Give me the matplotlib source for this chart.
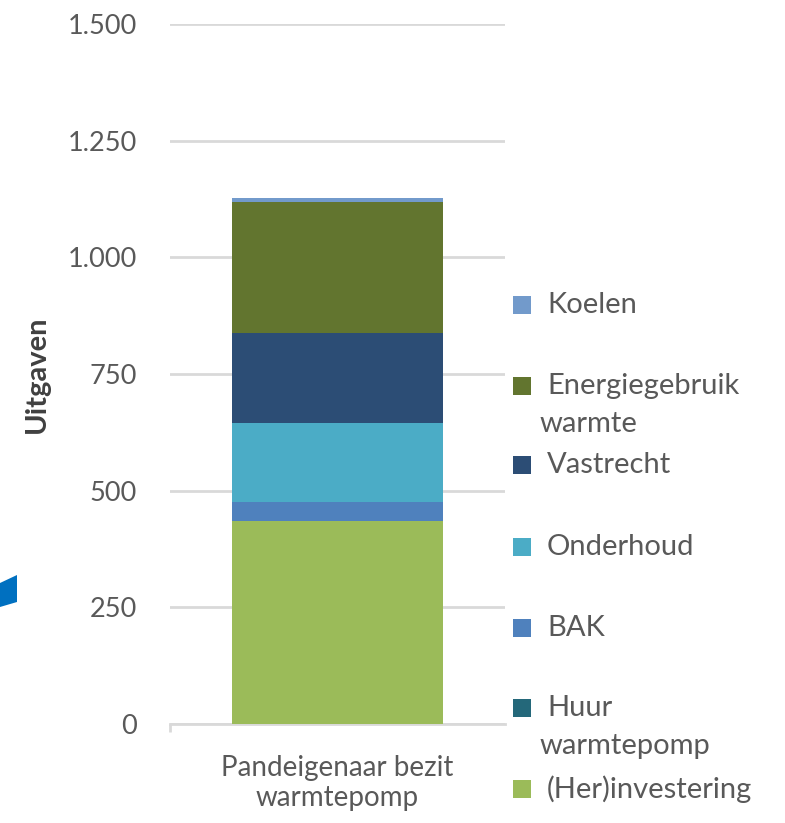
import matplotlib
matplotlib.use("Agg")
import matplotlib.pyplot as plt
from matplotlib.patches import Rectangle, Polygon

# ---- data ----
categories = ["Pandeigenaar bezit\nwarmtepomp"]
series_names = ["(Her)investering", "Huur\nwarmtepomp", "BAK", "Onderhoud",
                "Vastrecht", "Energiegebruik\nwarmte", "Koelen"]
herinvestering = [436]
huur_warmtepomp = [0]
bak = [39]
onderhoud = [169]
vastrecht = [194]
energiegebruik_warmte = [281]
koelen = [8]
series_values = [herinvestering, huur_warmtepomp, bak, onderhoud,
                 vastrecht, energiegebruik_warmte, koelen]
series_colors = ["#9BBB59", "#24687A", "#4F81BD", "#4BACC6",
                 "#2C4D75", "#62752F", "#729ACB"]
yticks = [0, 250, 500, 750, 1000, 1250, 1500]
ytick_labels = ["0", "250", "500", "750", "1.000", "1.250", "1.500"]

plt.rcParams["font.family"] = ["Lato", "DejaVu Sans"]

W, H = 785, 823
fig = plt.figure(figsize=(W / 100, H / 100), dpi=100)
ax = fig.add_axes([170 / W, 1 - 724 / H, 335 / W, 700 / H])

x = list(range(len(categories)))
bottom = [0] * len(categories)
for name, vals, col in zip(series_names, series_values, series_colors):
    ax.bar(x, vals, width=0.627, bottom=bottom, color=col, linewidth=0, zorder=3)
    bottom = [b + v for b, v in zip(bottom, vals)]

ax.set_xlim(-0.5, len(categories) - 0.5)
ax.set_ylim(0, 1500)
ax.set_yticks(yticks)
ax.set_yticklabels(ytick_labels)
ax.grid(axis="y", color="#D9D9D9", linewidth=2, zorder=0)
ax.set_axisbelow(True)
for s in ["top", "right", "left"]:
    ax.spines[s].set_visible(False)
ax.spines["bottom"].set_color("#D9D9D9")
ax.spines["bottom"].set_linewidth(2)
ax.tick_params(axis="y", length=0, pad=24, labelsize=19.5, labelcolor="#595959")
ax.set_xticks(x)
ax.set_xticklabels(categories)
ax.tick_params(axis="x", which="major", length=0, pad=22, labelsize=20, labelcolor="#595959")
for lbl in ax.get_xticklabels():
    lbl.set_linespacing(1.2)
ax.set_xticks([-0.5], minor=True)
ax.tick_params(axis="x", which="minor", length=6, width=2, color="#D9D9D9", direction="out")

ax.set_ylabel("Uitgaven", fontsize=21, fontweight="bold", color="#404040")
ax.yaxis.set_label_coords((50 - 170) / 335, 0.5)

# legend (top to bottom reversed)
leg_y = [305, 386, 465, 547, 628, 708, 789]
for yy, name, col in zip(leg_y, series_names[::-1], series_colors[::-1]):
    fig.add_artist(Rectangle((513 / W, 1 - (yy + 9) / H), 18 / W, 18 / H,
                             transform=fig.transFigure, color=col, linewidth=0))
    for i, line in enumerate(name.split("\n")):
        fig.text((547 if i == 0 else 540) / W, 1 - (yy + 38 * i) / H, line,
                 fontsize=21, color="#595959", va="center", ha="left")

# decorative blue shape at left edge
pts = [(0, 583), (17, 575), (17, 602), (0, 607)]
fig.add_artist(Polygon([(px / W, 1 - py / H) for px, py in pts],
                       transform=fig.transFigure, color="#0070C0", linewidth=0))

fig.savefig("out.png", dpi=100)
